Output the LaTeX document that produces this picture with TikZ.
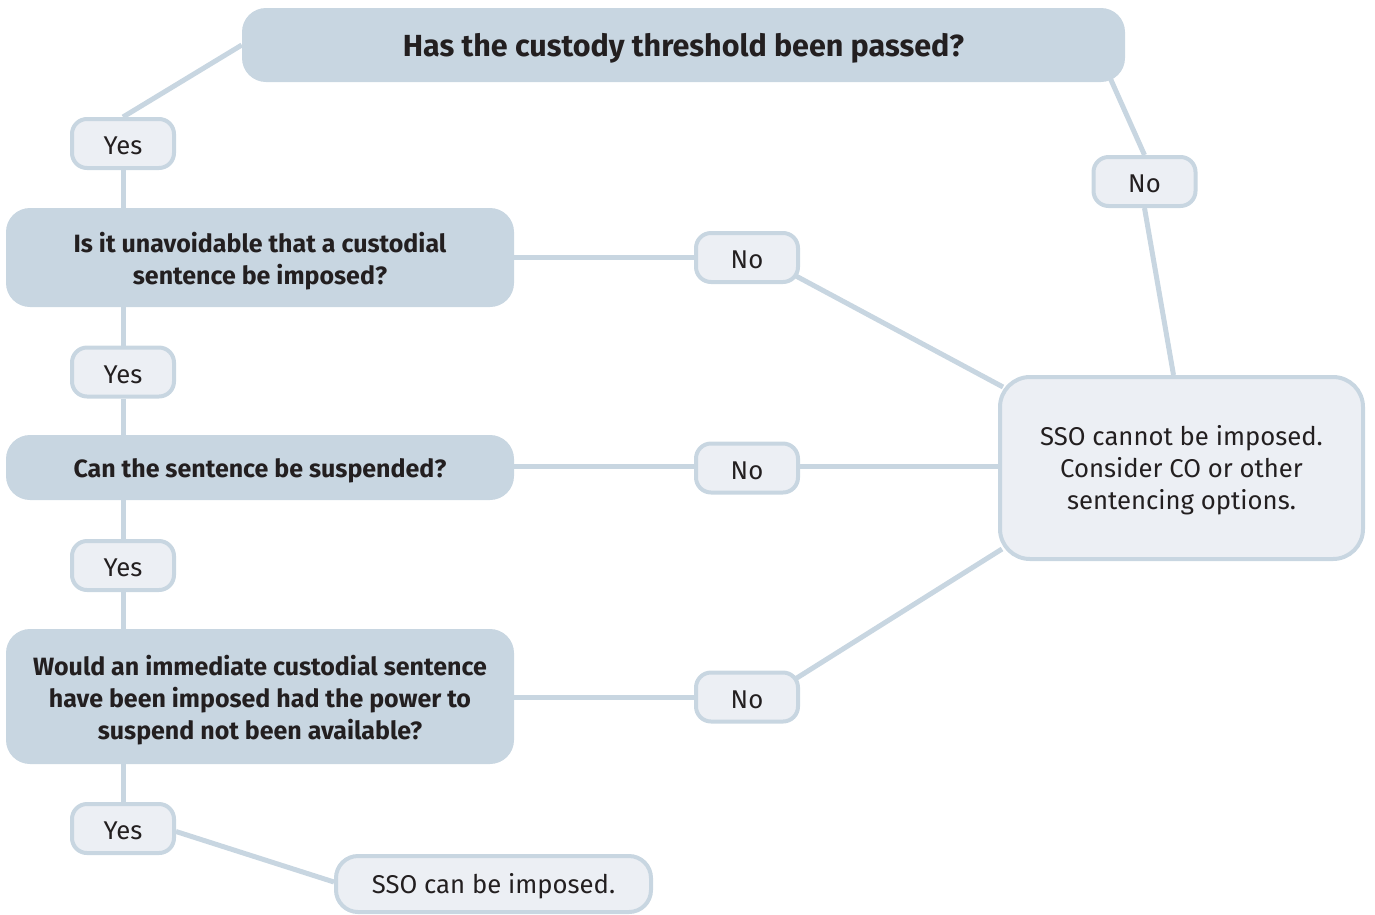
\documentclass[tikz,border=0pt]{standalone}
\usepackage{fontspec}
\setmainfont{Fira Sans}
\usetikzlibrary{backgrounds,calc}
\definecolor{dk}{HTML}{C8D6E1}
\definecolor{lt}{HTML}{ECEFF4}
\definecolor{tx}{HTML}{231F20}
\begin{document}
\begin{tikzpicture}[x=1pt,y=-1pt,
  q/.style={fill=dk, rounded corners=24pt, inner sep=0pt},
  qtext/.style={align=center, inner sep=0pt, yshift=-3.5pt,
    font=\fontsize{25}{32}\selectfont\bfseries, text=tx},
  anstext/.style={align=center, inner sep=0pt, yshift=-2.5pt,
    font=\fontsize{25.7}{32}\selectfont, text=tx},
  ans/.style={fill=lt, draw=dk, line width=4pt, rounded corners=15pt, inner sep=0pt,
    minimum width=102pt, minimum height=49pt},
  link/.style={draw=dk, line width=5pt}]
\useasboundingbox (0,0) rectangle (1375,914);
% questions
\node[q, minimum width=883pt, minimum height=74pt,
  label={[qtext, font=\fontsize{30.5}{32}\selectfont\bfseries]center:Has the custody threshold been passed?}] (top) at (683.5,45) {};
\node[q, minimum width=508pt, minimum height=99pt,
  label={[qtext]center:{Is it unavoidable that a custodial\\sentence be imposed?}}] (q2) at (260,257.5) {};
\node[q, minimum width=508pt, minimum height=65pt,
  label={[qtext]center:Can the sentence be suspended?}] (q3) at (260,467.5) {};
\node[q, minimum width=508pt, minimum height=135pt,
  label={[qtext]center:{Would an immediate custodial sentence\\have been imposed had the power to\\suspend not been available?}}] (q4) at (260,696.5) {};
% answers
\node[ans, label={[anstext]center:Yes}] (y1) at (123,143.5) {};
\node[ans, label={[anstext]center:Yes}] (y2) at (123,372) {};
\node[ans, label={[anstext]center:Yes}] (y3) at (123,565.5) {};
\node[ans, label={[anstext]center:Yes}] (y4) at (123,828.5) {};
\node[ans, label={[anstext]center:No}] (n0) at (1144.5,181.5) {};
\node[ans, label={[anstext]center:No}] (n1) at (747,257.5) {};
\node[ans, label={[anstext]center:No}] (n2) at (747,468) {};
\node[ans, label={[anstext]center:No}] (n3) at (747,697) {};
% outcomes
\node[ans, rounded corners=30pt, minimum width=363pt, minimum height=182pt,
  label={[anstext]center:{SSO cannot be imposed.\\Consider CO or other\\sentencing options.}}] (no) at (1181.5,468) {};
\node[ans, rounded corners=22pt, minimum width=315pt, minimum height=56pt,
  label={[anstext]center:SSO can be imposed.}] (yes) at (493.5,884) {};
% connectors
\begin{pgfonlayer}{background}
\draw[link] (top.west) -- (y1.north);
\draw[link] (y1.south) -- (y1.south |- q2.north);
\draw[link] (y2.north |- q2.south) -- (y2.north);
\draw[link] (y2.south) -- (y2.south |- q3.north);
\draw[link] (y3.north |- q3.south) -- (y3.north);
\draw[link] (y3.south) -- (y3.south |- q4.north);
\draw[link] (y4.north |- q4.south) -- (y4.north);
\draw[link] ($(y4.east)+(0,3)$) -- ($(yes.west)+(0,-2)$);
\draw[link] ($(top.south east)+(-15,-4)$) -- (n0.north);
\draw[link] (n0.south) -- ($(no.north)+(-8,0)$);
\draw[link] (q2.east |- n1.west) -- (n1.west);
\draw[link] ($(n1.south east)+(-4,-8)$) -- ($(no.north west)+(5,12)$);
\draw[link] ($(q3.east)+(0,-1.5)$) -- ($(no.west)+(0,-2)$);
\draw[link] (q4.east |- n3.west) -- (n3.west);
\draw[link] ($(n3.north east)+(-4,8)$) -- ($(no.south west)+(4,-12)$);
\end{pgfonlayer}
\end{tikzpicture}
\end{document}
